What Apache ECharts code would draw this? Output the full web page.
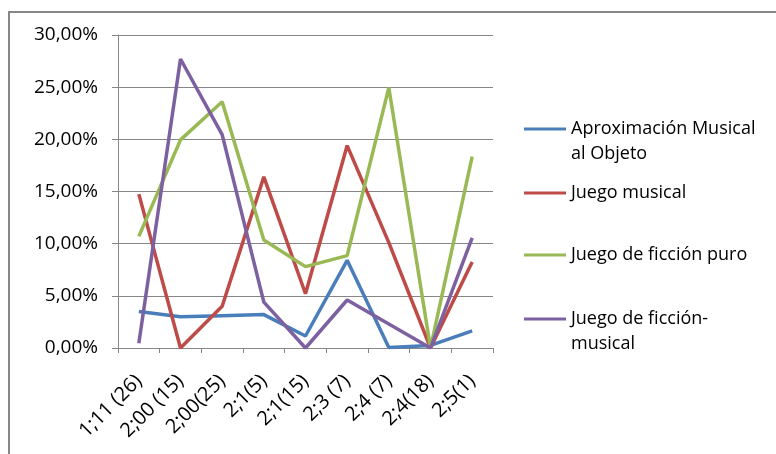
<!DOCTYPE html>
<html>
<head>
<meta charset="utf-8">
<script src="https://cdn.jsdelivr.net/npm/echarts@6/dist/echarts.min.js"></script>
<style>
  html, body { margin: 0; padding: 0; background: #fff; }
  #chart { width: 776px; height: 454px; }
</style>
</head>
<body>
<div id="chart"></div>
<script>
// Edad (número de sesión) en el eje X
var categories = ['1;11 (26)', '2;00 (15)', '2;00(25)', '2;1(5)', '2;1(15)', '2;3 (7)', '2;4 (7)', '2;4(18)', '2;5(1)'];

// Porcentajes por tipo de juego
var aproximacionMusical = [3.5, 3.0, 3.1, 3.2, 1.15, 8.4, 0.05, 0.25, 1.65];
var juegoMusical        = [14.75, 0.0, 4.0, 16.4, 5.2, 19.4, 10.1, 0.0, 8.25];
var ficcionPuro         = [10.7, 19.95, 23.6, 10.35, 7.8, 8.85, 24.95, 0.0, 18.35];
var ficcionMusical      = [0.45, 27.7, 20.45, 4.4, 0.0, 4.6, 2.3, 0.0, 10.55];

var seriesNames = ['Aproximación Musical al Objeto', 'Juego musical', 'Juego de ficción puro', 'Juego de ficción-musical'];
// Leading blank line keeps the legend line next to the first text line
var legendLabels = ['\nAproximación Musical\nal Objeto', 'Juego musical', 'Juego de ficción puro', '\nJuego de ficción-\nmusical'];
var seriesColors = ['#4a7ebb', '#be4b48', '#98b954', '#7d60a0'];
var seriesValues = [aproximacionMusical, juegoMusical, ficcionPuro, ficcionMusical];

// Y axis ticks (percent)
var yMin = 0, yMax = 30, yStep = 5;

var fontFam = '"Open Sans", "Noto Sans", sans-serif';
var gridColor = '#868686';

function makeLegend(i, top) {
  return {
    show: true,
    orient: 'vertical',
    left: 524,
    top: top,
    padding: 0,
    icon: 'rect',
    itemWidth: 42,
    itemHeight: 3,
    itemGap: 0,
    selectedMode: false,
    data: [seriesNames[i]],
    formatter: function () { return legendLabels[i]; },
    textStyle: {
      fontFamily: fontFam,
      fontSize: 18,
      color: '#000',
      lineHeight: 25
    }
  };
}

var chart = echarts.init(document.getElementById('chart'));
chart.setOption({
  animation: false,
  backgroundColor: '#fff',
  graphic: [{
    type: 'rect',
    shape: { x: 9, y: 12, width: 900, height: 600 },
    style: { fill: 'none', stroke: '#878787', lineWidth: 2 },
    silent: true
  }],
  grid: { left: 118, right: 283, top: 35, bottom: 106, containLabel: false },
  legend: [makeLegend(0, 91.5), makeLegend(1, 180.5), makeLegend(2, 242.5), makeLegend(3, 281.5)],
  xAxis: {
    type: 'category',
    data: categories,
    boundaryGap: true,
    axisLine: { show: true, lineStyle: { color: gridColor, width: 1 } },
    axisTick: { show: true, alignWithLabel: false, length: 5, lineStyle: { color: gridColor } },
    axisLabel: {
      interval: 0,
      rotate: 45,
      margin: 30,
      fontFamily: fontFam,
      fontSize: 20,
      color: '#000'
    },
    splitLine: { show: false }
  },
  yAxis: {
    type: 'value',
    min: yMin,
    max: yMax,
    interval: yStep,
    axisLine: { show: true, lineStyle: { color: gridColor, width: 1 } },
    axisTick: { show: true, length: 6, inside: false, lineStyle: { color: gridColor } },
    axisLabel: {
      margin: 20,
      fontFamily: fontFam,
      fontSize: 19,
      color: '#000',
      formatter: function (v) { return v.toFixed(2).replace('.', ',') + '%'; }
    },
    splitLine: { show: true, lineStyle: { color: gridColor, width: 1 } }
  },
  series: seriesValues.map(function (vals, i) {
    return {
      name: seriesNames[i],
      type: 'line',
      data: vals,
      symbol: 'none',
      smooth: false,
      lineStyle: { color: seriesColors[i], width: 3.5 },
      itemStyle: { color: seriesColors[i] },
      z: 2 + i
    };
  })
});
</script>
</body>
</html>
